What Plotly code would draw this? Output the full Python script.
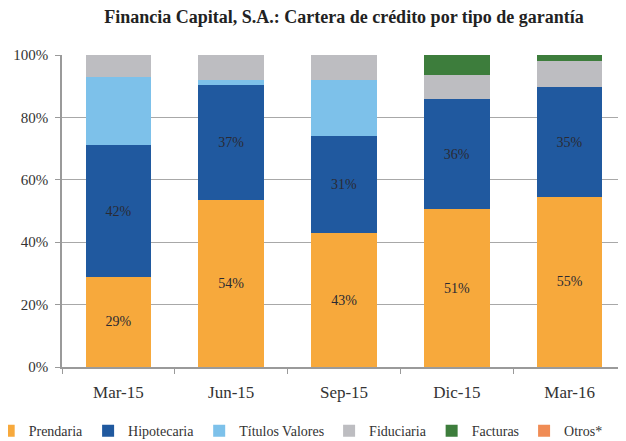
import plotly.graph_objects as go

categories = ["Mar-15", "Jun-15", "Sep-15", "Dic-15", "Mar-16"]
prendaria = [29, 53.5, 43, 50.5, 54.6]
hipotecaria = [42, 37, 31, 35.5, 35]
titulos = [22, 1.5, 18, 0, 0]
fiduciaria = [7, 8, 8, 7.5, 8.4]
facturas = [0, 0, 0, 6.5, 2.0]
otros = [0, 0, 0, 0, 0]

series = [
    ("Prendaria", prendaria, "#F7A93C", 15),
    ("Hipotecaria", hipotecaria, "#20599F", 14),
    ("Títulos Valores", titulos, "#7DC1EA", None),
    ("Fiduciaria", fiduciaria, "#BDBDC1", None),
    ("Facturas", facturas, "#3D7D3C", None),
    ("Otros*", otros, "#F08C55", None),
]

font_family = "Liberation Serif, DejaVu Serif, serif"

fig = go.Figure()
for name, vals, color, lsize in series:
    labelled = lsize is not None
    fig.add_trace(go.Bar(
        x=categories, y=vals, name=name,
        marker=dict(color=color, line=dict(width=0)),
        texttemplate="%{y:.0f}%" if labelled else None,
        textposition="inside" if labelled else "none",
        insidetextanchor="middle",
        textangle=0,
        textfont=dict(family=font_family, size=lsize or 12, color="#2a2a33"),
        hoverinfo="skip",
    ))

fig.update_layout(
    barmode="stack",
    bargap=0.42,
    width=618, height=433,
    margin=dict(l=54, r=0, t=47, b=74, autoexpand=False),
    paper_bgcolor="white",
    plot_bgcolor="white",
    font=dict(family=font_family, color="#333333"),
    title=dict(
        text="<b>Financia Capital, S.A.: Cartera de crédito por tipo de garantía</b>",
        x=0.5, xref="paper", xanchor="center",
        y=0.979, yanchor="middle",
        font=dict(family=font_family, size=18, color="#222222"),
    ),
    legend=dict(
        orientation="h", x=-0.13, xanchor="left", y=-0.154, yanchor="top",
        font=dict(family=font_family, size=14, color="#333333"),
        itemwidth=30, traceorder="normal",
        tracegroupgap=0,
    ),
    uniformtext=dict(minsize=8, mode="show"),
)
fig.update_xaxes(
    showline=True, linecolor="#9a9a9a", linewidth=1.5,
    ticks="outside", tickson="boundaries", ticklen=5, tickcolor="#9a9a9a",
    ticklabelstandoff=9,
    tickfont=dict(family=font_family, size=17, color="#333333"),
    showgrid=False,
)
fig.update_yaxes(
    range=[0, 100], dtick=20, ticksuffix="%",
    showline=True, linecolor="#9a9a9a", linewidth=1.5,
    ticks="outside", ticklen=5, tickcolor="#9a9a9a", ticklabelstandoff=4,
    showgrid=True, gridcolor="#a8a8a8", gridwidth=1.2,
    tickfont=dict(family=font_family, size=15, color="#333333"),
    zeroline=False,
)

fig.write_html("out.html")
